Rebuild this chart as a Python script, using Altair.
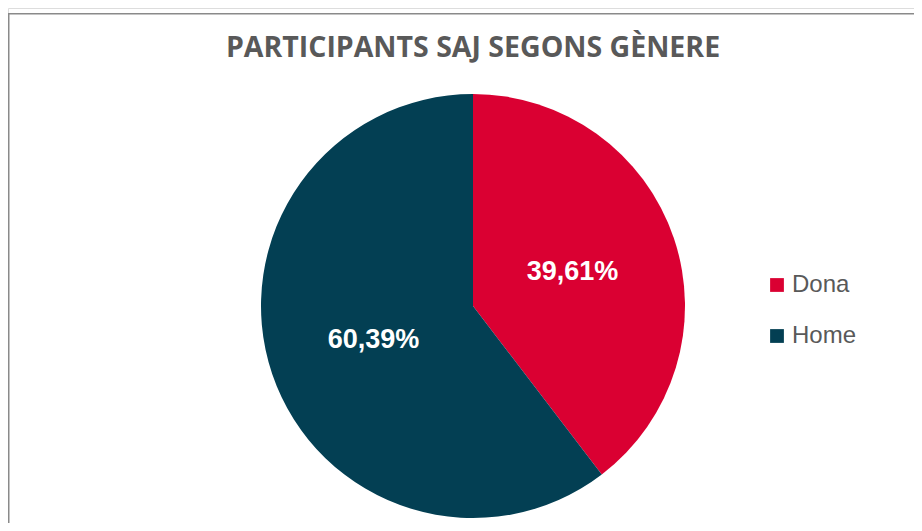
import altair as alt
import pandas as pd

# --- data ---
genders = ["Dona", "Home"]
percents = [39.61, 60.39]
labels = [f"{v:.2f}".replace(".", ",") + "%" for v in percents]
colors = ["#DA0032", "#033F53"]

title_text = "PARTICIPANTS SAJ SEGONS GÈNERE"

df = pd.DataFrame({"genere": genders, "pct": percents, "label": labels})

W, H = 906, 515
CX, CY = 465, 298
R = 212

color = alt.Color(
    "genere:N",
    scale=alt.Scale(domain=genders, range=colors),
    sort=genders,
    legend=alt.Legend(
        title=None,
        orient="none",
        legendX=757,
        legendY=265,
        symbolType="square",
        symbolSize=190,
        symbolStrokeWidth=0,
        labelFontSize=24,
        labelFont="Liberation Sans",
        labelColor="#595959",
        labelOffset=3,
        rowPadding=27,
    ),
)

base = alt.Chart(df).encode(
    theta=alt.Theta("pct:Q", stack=True),
    order=alt.Order("genere:N", sort="ascending"),
)

pie = base.mark_arc(outerRadius=R).encode(
    color=color,
    x=alt.value(CX),
    y=alt.value(CY),
)

text = base.mark_text(
    radius=105,
    fontSize=27,
    fontWeight="bold",
    font="Liberation Sans",
    color="white",
    align="center",
    baseline="middle",
).encode(
    text="label:N",
    x=alt.value(CX),
    y=alt.value(CY),
)

frame_df = pd.DataFrame({"k": [0]})
left_rule = alt.Chart(frame_df).mark_rule(color="#8a8a8a", strokeWidth=1.5).encode(
    x=alt.value(0.75), y=alt.value(5), y2=alt.value(H)
)
top_rule = alt.Chart(frame_df).mark_rule(color="#8a8a8a", strokeWidth=1.5).encode(
    x=alt.value(0), x2=alt.value(W), y=alt.value(5.75)
)

chart = (
    alt.layer(pie, text, left_rule, top_rule)
    .properties(
        width=W,
        height=H,
        autosize=alt.AutoSizeParams(type="none"),
        padding=0,
        title=alt.TitleParams(
            text=title_text,
            anchor="middle",
            orient="top",
            offset=0,
            dy=68,
            dx=12,
            baseline="middle",
            font="Open Sans",
            fontSize=28.5,
            fontWeight="bold",
            color="#595959",
        ),
    )
    .configure_view(stroke=None)
    .configure(background="white")
)

chart.save("out.html", embed_options={"renderer": "svg", "actions": False})
